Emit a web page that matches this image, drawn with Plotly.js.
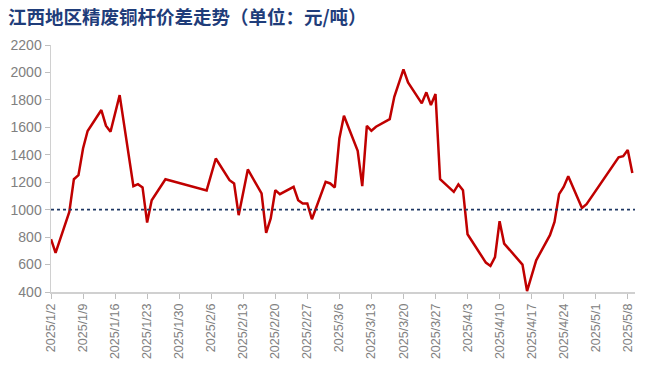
<!DOCTYPE html>
<html>
<head>
<meta charset="utf-8">
<script src="https://cdn.plot.ly/plotly-3.0.1.min.js"></script>
<style>html,body{margin:0;padding:0;background:#fff;}#chart{width:660px;height:375px;}</style>
</head>
<body>
<div id="chart"></div>
<script>
const dates = [
  "2025-01-02","2025-01-03","2025-01-06","2025-01-07","2025-01-08","2025-01-09","2025-01-10",
  "2025-01-13","2025-01-14","2025-01-15","2025-01-17",
  "2025-01-20","2025-01-21","2025-01-22","2025-01-23","2025-01-24","2025-01-27",
  "2025-02-05","2025-02-07","2025-02-10","2025-02-11","2025-02-12","2025-02-14",
  "2025-02-17","2025-02-18","2025-02-19","2025-02-20","2025-02-21",
  "2025-02-24","2025-02-25","2025-02-26","2025-02-27","2025-02-28",
  "2025-03-03","2025-03-04","2025-03-05","2025-03-06","2025-03-07",
  "2025-03-10","2025-03-11","2025-03-12","2025-03-13","2025-03-14",
  "2025-03-17","2025-03-18","2025-03-20","2025-03-21",
  "2025-03-24","2025-03-25","2025-03-26","2025-03-27","2025-03-28",
  "2025-03-31","2025-04-01","2025-04-02","2025-04-03",
  "2025-04-07","2025-04-08","2025-04-09","2025-04-10","2025-04-11",
  "2025-04-15","2025-04-16","2025-04-18",
  "2025-04-21","2025-04-22","2025-04-23","2025-04-24","2025-04-25",
  "2025-04-28","2025-04-29",
  "2025-05-06","2025-05-07","2025-05-08","2025-05-09"
];
const spread = [
  785,685,984,1222,1252,1446,1573,
  1726,1612,1568,1835,
  1171,1186,1162,906,1069,1222,
  1140,1373,1215,1191,960,1293,
  1118,831,936,1142,1113,
  1166,1069,1045,1045,930,
  1203,1191,1162,1519,1684,
  1429,1171,1611,1575,1604,
  1660,1823,2023,1928,
  1775,1855,1762,1843,1222,
  1130,1184,1142,821,
  614,590,655,916,753,
  600,407,631,
  814,911,1113,1166,1244,
  1013,1040,
  1381,1390,1434,1268
];
const referenceLevel = 1000;
const titleText = "江西地区精废铜杆价差走势（单位：元/吨）";
const yTicks = [400,600,800,1000,1200,1400,1600,1800,2000,2200];

const trace = {
  x: dates, y: spread, type: "scatter", mode: "lines",
  line: {color: "#C00000", width: 2.5},
  hoverinfo: "skip", showlegend: false
};

const layout = {
  width: 660, height: 375,
  margin: {l: 51, r: 25, t: 45, b: 83},
  paper_bgcolor: "#fff", plot_bgcolor: "#fff",
  title: {
    text: "<b>" + titleText + "</b>",
    x: 0.012, xanchor: "left", y: 0.953, yanchor: "middle",
    font: {family: "Noto Sans CJK SC", size: 18.5, color: "#1F3D7A"}
  },
  xaxis: {
    type: "date",
    range: ["2025-01-02", "2025-05-09 14:00"],
    tick0: "2025-01-02", dtick: 7 * 86400000,
    tickformat: "%Y/%-m/%-d", tickangle: -90,
    ticks: "outside", ticklen: 5, tickcolor: "#bfbfbf",
    showline: true, linecolor: "#d0d0d0", linewidth: 1.5,
    showgrid: false, zeroline: false,
    tickfont: {family: "Liberation Sans", size: 12.5, color: "#808080"}
  },
  yaxis: {
    range: [400, 2200], tickvals: yTicks,
    ticks: "outside", ticklen: 5, tickcolor: "#bfbfbf",
    showline: true, linecolor: "#d0d0d0", linewidth: 1.5,
    showgrid: false, zeroline: false,
    tickfont: {family: "Liberation Sans", size: 14, color: "#808080"}
  },
  shapes: [{
    type: "line", xref: "paper", x0: 0, x1: 1, yref: "y", y0: referenceLevel, y1: referenceLevel,
    line: {color: "#1F3864", width: 1.6, dash: "dot"}
  }]
};

Plotly.newPlot("chart", [trace], layout, {displayModeBar: false, staticPlot: true});
</script>
</body>
</html>
